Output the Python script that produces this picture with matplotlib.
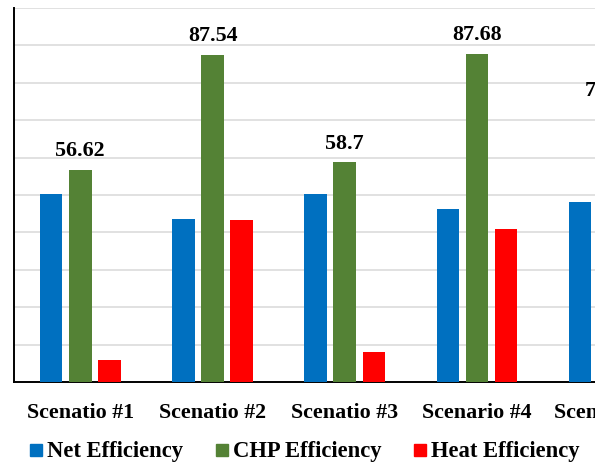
import numpy as np
import matplotlib
matplotlib.use("Agg")
from matplotlib import pyplot as plt
from matplotlib.lines import Line2D
from matplotlib.patches import Rectangle

# values (scenario 5 is cut off at the right edge)
scenarios = ["Scenatio #1", "Scenatio #2", "Scenatio #3", "Scenario #4", "Scenario #5"]
net_eff = [50.2, 43.7, 50.3, 46.2, 48.1]
chp_eff = [56.62, 87.54, 58.7, 87.68, 72.63]
heat_eff = [5.8, 43.2, 7.9, 40.8, np.nan]
series_names = ["Net Efficiency", "CHP Efficiency", "Heat Efficiency"]
colors = ["#0070C0", "#548235", "#FF0000"]

plt.rcParams['font.family'] = ['Liberation Serif', 'DejaVu Serif']
plt.rcParams['font.weight'] = 'bold'

W, H = 607, 466
fig = plt.figure(figsize=(W / 100, H / 100), dpi=100)

# axes runs past the right edge, the original picture is a crop
pitch = 132.2
n = len(scenarios)
left_px, bottom_px, top_px = 14.2, 382, 8
ax = fig.add_axes([left_px / W, (H - bottom_px) / H, n * pitch / W, (bottom_px - top_px) / H])

x = np.arange(n)
w = 0.17
step = 0.22
for k, vals in enumerate([net_eff, chp_eff, heat_eff]):
    ax.bar(x + (k - 1) * step, vals, width=w, color=colors[k], zorder=3)

# data labels on CHP bars
for xi, v in zip(x, chp_eff):
    ax.annotate(f"{v:g}", (xi, v), xytext=(0, 10), textcoords="offset points",
                ha="center", va="baseline", fontsize=15.8, fontweight="bold")

ax.set_xlim(-0.5, n - 0.5)
ax.set_ylim(0, 100)
ax.set_yticks(np.arange(0, 101, 10))
ax.yaxis.grid(True, color="#d9d9d9", linewidth=1.1, zorder=0)
ax.set_axisbelow(True)
ax.tick_params(axis="y", left=False, labelleft=False)
ax.set_xticks(x)
ax.set_xticklabels(scenarios, fontsize=15.8, fontweight="bold")
ax.tick_params(axis="x", length=0, pad=15)
for s in ["top", "right"]:
    ax.spines[s].set_visible(False)
for s in ["left", "bottom"]:
    ax.spines[s].set_linewidth(1.4)
    ax.spines[s].set_color("black")

handles = [Line2D([], [], marker="s", linestyle="none", markersize=8, color=c) for c in colors]
fig.legend(handles, series_names, loc="center", bbox_to_anchor=(305 / W, (H - 452) / H),
           ncol=3, frameon=False, handlelength=0.5, handletextpad=0.25,
           columnspacing=1.45, prop={"weight": "bold", "size": 16.3})

# white strip at the right, where the source crop ends
fig.add_artist(Rectangle((595 / W, 0), 12 / W, 1, transform=fig.transFigure,
                         facecolor="white", edgecolor="none", zorder=10))

fig.savefig("out.png", dpi=100)
